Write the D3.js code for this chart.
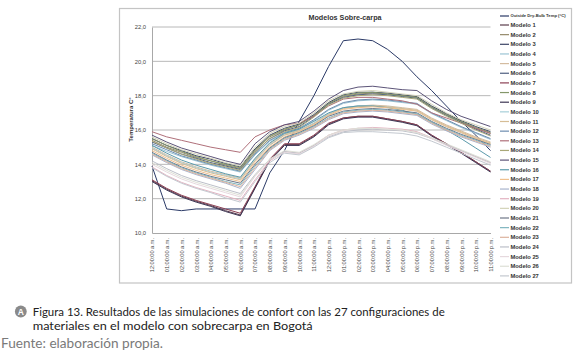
<!DOCTYPE html>
<html><head><meta charset="utf-8">
<script src="https://cdn.jsdelivr.net/npm/d3@7"></script>
<style>body{margin:0;background:#fff}svg{display:block}</style>
</head><body><svg id="c" width="580" height="356"></svg>
<script>
const hours = ["12:00:00 a.m.","01:00:00 a.m.","02:00:00 a.m.","03:00:00 a.m.","04:00:00 a.m.","05:00:00 a.m.","06:00:00 a.m.","07:00:00 a.m.","08:00:00 a.m.","09:00:00 a.m.","10:00:00 a.m.","11:00:00 a.m.","12:00:00 p.m.","01:00:00 p.m.","02:00:00 p.m.","03:00:00 p.m.","04:00:00 p.m.","05:00:00 p.m.","06:00:00 p.m.","07:00:00 p.m.","08:00:00 p.m.","09:00:00 p.m.","10:00:00 p.m.","11:00:00 p.m."];
const yTicks = [10,12,14,16,18,20,22];
const seriesNames = ["Outside Dry-Bulb Temp (°C)","Modelo 1","Modelo 2","Modelo 3","Modelo 4","Modelo 5","Modelo 6","Modelo 7","Modelo 8","Modelo 9","Modelo 10","Modelo 11","Modelo 12","Modelo 13","Modelo 14","Modelo 15","Modelo 16","Modelo 17","Modelo 18","Modelo 19","Modelo 20","Modelo 21","Modelo 22","Modelo 23","Modelo 24","Modelo 25","Modelo 26","Modelo 27"];
const seriesColors = ["#2b3a67","#5a3c4c","#948a6a","#3c4466","#9bc4d4","#d4bca0","#4e5f80","#8c4054","#84976a","#3d3553","#a6cfd9","#d6bd96","#6c8caf","#b0707a","#a9a878","#5c5478","#5b9aab","#efc08e","#a8b3cc","#e3b3c1","#d3d3b8","#6e7788","#7fb5bf","#dcb39e","#bcbfc8","#e6d9de","#dddfd6","#c3c8cf"];

const outside = [13.9,11.4,11.3,11.4,11.4,11.4,11.4,11.4,13.5,14.8,16.5,18.0,19.7,21.2,21.3,21.2,20.7,20.0,19.1,18.3,17.4,16.5,15.7,14.8];
const m1  = [13.05,12.55,12.15,11.85,11.6,11.3,11.05,12.65,14.25,15.15,15.15,15.65,16.35,16.7,16.8,16.8,16.65,16.5,16.3,15.7,15.2,14.7,14.15,13.6];
const m2  = [15.4,15.0,14.7,14.4,14.2,13.95,13.75,14.8,15.6,16.0,16.3,16.85,17.55,17.95,18.1,18.15,18.1,18.0,17.9,17.35,16.9,16.5,16.1,15.8];
const m3  = [15.5,15.1,14.8,14.5,14.3,14.05,13.85,14.9,15.7,16.1,16.35,16.9,17.6,18.05,18.2,18.2,18.15,18.05,17.95,17.4,16.95,16.55,16.2,15.9];
const m4  = [15.1,14.75,14.45,14.2,13.95,13.75,13.55,14.55,15.35,15.8,16.05,16.55,17.15,17.55,17.7,17.75,17.7,17.6,17.5,16.95,16.55,16.15,15.8,15.45];
const m5  = [15.0,14.55,14.15,13.85,13.6,13.4,13.2,14.3,15.2,15.75,16.0,16.4,16.95,17.3,17.4,17.45,17.4,17.3,17.2,16.7,16.3,15.95,15.6,15.3];
const m6  = [15.3,14.95,14.6,14.35,14.1,13.9,13.7,14.7,15.5,15.95,16.2,16.8,17.5,17.9,18.05,18.1,18.05,17.95,17.85,17.3,16.85,16.45,16.05,15.7];
const m7  = [13.1,12.6,12.2,11.9,11.65,11.4,11.15,12.7,14.3,15.2,15.2,15.7,16.4,16.7,16.8,16.8,16.65,16.5,16.3,15.7,15.2,14.7,14.15,13.6];
const m8  = [15.5,15.1,14.75,14.45,14.2,14.0,13.8,14.85,15.65,16.05,16.3,16.85,17.55,18.0,18.15,18.2,18.1,18.0,17.9,17.35,16.9,16.5,16.15,15.85];
const m9  = [13.0,12.5,12.1,11.8,11.55,11.25,11.0,12.6,14.2,15.1,15.1,15.6,16.3,16.65,16.75,16.75,16.6,16.45,16.25,15.65,15.15,14.65,14.1,13.55];
const m10 = [14.95,14.5,14.1,13.8,13.55,13.35,13.15,14.25,15.15,15.7,15.95,16.4,16.95,17.3,17.4,17.4,17.35,17.25,17.1,16.6,16.2,15.85,15.5,15.2];
const m11 = [14.9,14.45,14.05,13.75,13.5,13.3,13.1,14.2,15.1,15.7,15.95,16.35,16.9,17.25,17.35,17.4,17.35,17.25,17.15,16.65,16.25,15.9,15.55,15.25];
const m12 = [15.2,14.85,14.5,14.25,14.0,13.8,13.6,14.6,15.4,15.85,16.1,16.6,17.2,17.6,17.75,17.8,17.75,17.65,17.55,17.0,16.6,16.2,15.85,15.5];
const m13 = [15.9,15.6,15.4,15.2,15.0,14.85,14.7,15.6,16.0,16.3,16.4,16.8,17.4,17.8,17.9,17.9,17.8,17.7,17.5,17.0,16.7,16.4,16.1,15.8];
const m14 = [15.35,14.95,14.6,14.3,14.05,13.85,13.65,14.7,15.5,15.9,16.15,16.75,17.45,17.85,18.0,18.05,18.0,17.9,17.8,17.25,16.8,16.4,16.0,15.65];
const m15 = [15.7,15.3,14.95,14.7,14.45,14.2,14.0,15.2,15.9,16.3,16.5,17.1,17.8,18.3,18.5,18.55,18.45,18.35,18.3,17.7,17.2,16.8,16.5,16.2];
const m16 = [15.1,14.65,14.25,13.95,13.7,13.45,13.25,14.35,15.25,15.8,16.05,16.5,17.0,17.3,17.4,17.4,17.3,17.15,16.9,16.45,16.0,15.5,14.95,14.4];
const m17 = [14.8,14.35,13.95,13.65,13.4,13.2,13.0,14.1,15.0,15.6,15.9,16.3,16.85,17.2,17.3,17.35,17.3,17.2,17.1,16.6,16.2,15.85,15.5,15.2];
const m18 = [14.55,14.1,13.7,13.4,13.15,12.9,12.6,13.7,14.8,15.4,15.7,16.1,16.6,16.95,17.05,17.1,17.05,16.95,16.85,16.35,15.95,15.6,15.3,15.0];
const m19 = [13.85,13.35,12.95,12.65,12.4,12.15,11.9,13.1,14.2,14.75,14.65,15.1,15.7,16.0,16.1,16.15,16.1,16.05,15.9,15.55,15.15,14.8,14.45,14.1];
const m20 = [15.6,15.2,14.85,14.6,14.35,14.1,13.9,15.0,15.8,16.2,16.4,17.0,17.7,18.1,18.25,18.3,18.2,18.1,18.0,17.5,17.0,16.6,16.3,16.0];
const m21 = [14.7,14.25,13.85,13.55,13.3,13.1,12.9,14.0,14.95,15.55,15.85,16.25,16.8,17.1,17.2,17.25,17.2,17.1,17.0,16.5,16.1,15.75,15.45,15.15];
const m22 = [14.65,14.2,13.8,13.5,13.25,13.0,12.8,13.9,14.9,15.5,15.8,16.2,16.7,17.05,17.15,17.2,17.15,17.05,16.95,16.45,16.05,15.7,15.4,15.1];
const m23 = [14.6,14.15,13.75,13.45,13.2,12.95,12.7,13.8,14.85,15.45,15.75,16.15,16.65,17.0,17.1,17.15,17.1,17.0,16.9,16.4,16.0,15.65,15.35,15.05];
const m24 = [14.2,13.75,13.35,13.05,12.8,12.55,12.3,13.4,14.3,14.75,14.65,15.1,15.6,15.9,16.0,16.05,16.0,15.95,15.8,15.5,15.15,14.8,14.45,14.1];
const m25 = [14.0,13.55,13.15,12.85,12.6,12.35,12.1,13.3,14.25,14.7,14.6,15.05,15.65,15.95,16.1,16.1,16.05,16.0,15.85,15.5,15.1,14.75,14.4,14.05];
const m26 = [14.1,13.65,13.25,12.95,12.7,12.45,12.2,13.35,14.3,14.8,14.7,15.15,15.7,16.0,16.1,16.1,16.05,16.0,15.85,15.55,15.2,14.85,14.5,14.15];
const m27 = [13.8,13.3,12.9,12.6,12.35,12.05,11.8,13.0,14.1,14.65,14.55,15.0,15.55,15.85,15.9,15.9,15.85,15.8,15.65,15.35,15.0,14.65,14.3,13.95];

const allValues = [outside,m1,m2,m3,m4,m5,m6,m7,m8,m9,m10,m11,m12,m13,m14,m15,m16,m17,m18,m19,m20,m21,m22,m23,m24,m25,m26,m27];
const series = seriesNames.map((n,i)=>({name:n,color:seriesColors[i],values:allValues[i]}));

const svg = d3.select("#c");
svg.append("rect").attr("width",580).attr("height",356).attr("fill","#fff");
// chart area
svg.append("rect").attr("x",119.5).attr("y",8.5).attr("width",452).attr("height",274.5)
  .attr("fill","#fff").attr("stroke","#c4c4c4").attr("stroke-width",1.2);

const x = d3.scalePoint().domain(hours).range([152,490.5]).padding(0);
const y = d3.scaleLinear().domain([10,22]).range([233,27]);

// gridlines
svg.append("g").selectAll("line").data(yTicks.filter(d=>d>10)).join("line")
  .attr("x1",152).attr("x2",490.5).attr("y1",d=>y(d)).attr("y2",d=>y(d))
  .attr("stroke","#b8b8b8").attr("stroke-width",1);

const fmt = d => d3.format(".1f")(d).replace(".",",");
const gy = svg.append("g").attr("transform","translate(152,0)")
  .call(d3.axisLeft(y).tickValues(yTicks).tickFormat(fmt).tickSize(0).tickPadding(6));
gy.select(".domain").attr("stroke","#a8a8a8");
gy.selectAll("text").attr("font-family","Liberation Sans, Arial, sans-serif").attr("font-size",5.8).attr("fill","#444");

const gx = svg.append("g").attr("transform","translate(0,233)")
  .call(d3.axisBottom(x).tickSize(0));
gx.select(".domain").attr("stroke","#a8a8a8");
gx.selectAll("text").attr("font-family","Liberation Sans, Arial, sans-serif").attr("font-size",5.6).attr("fill","#444")
  .attr("transform","rotate(-90)").attr("text-anchor","end").attr("x",-5).attr("y",0).attr("dy","0.35em");

// lines
const line = d3.line().x((d,i)=>x(hours[i])).y(d=>y(d));
svg.append("g").selectAll("path").data(series).join("path")
  .attr("d",d=>line(d.values)).attr("fill","none").attr("stroke",d=>d.color).attr("stroke-width",1);

// title
svg.append("text").attr("x",345).attr("y",19.5).attr("text-anchor","middle")
  .attr("font-family","Liberation Sans, Arial, sans-serif").attr("font-size",7.2).attr("font-weight","bold").attr("fill","#333")
  .text("Modelos Sobre-carpa");
// y title
svg.append("text").attr("transform","translate(132.5,119.5) rotate(-90)").attr("text-anchor","middle")
  .attr("font-family","Liberation Sans, Arial, sans-serif").attr("font-size",6).attr("font-weight","bold").attr("fill","#333")
  .text("Temperatura C°");

// legend
const lg = svg.append("g");
series.forEach((s,i)=>{
  const yy = i===0 ? 16 : 25 + (i-1)*9.65;
  lg.append("line").attr("x1",500).attr("x2",509).attr("y1",yy).attr("y2",yy).attr("stroke",s.color).attr("stroke-width",1.2);
  lg.append("text").attr("x",510.5).attr("y",yy).attr("dy","0.35em")
    .attr("font-family","Liberation Sans, Arial, sans-serif").attr("font-weight","bold")
    .attr("font-size",i===0?4.2:5.8).attr("fill","#333").text(s.name);
});

// caption
svg.append("circle").attr("cx",20.8).attr("cy",311.5).attr("r",5.9).attr("fill","#8a8a8a");
svg.append("text").attr("x",20.8).attr("y",314.7).attr("text-anchor","middle").attr("font-family","Liberation Sans, Arial, sans-serif")
  .attr("font-weight","bold").attr("font-size",8.5).attr("fill","#fff").text("A");
svg.append("text").attr("x",32.7).attr("y",315.5).attr("font-family","Lato, sans-serif").attr("font-size",12.2).attr("fill","#222")
  .attr("textLength",412).attr("lengthAdjust","spacingAndGlyphs")
  .text("Figura 13. Resultados de las simulaciones de confort con las 27 configuraciones de");
svg.append("text").attr("x",32.7).attr("y",330.3).attr("font-family","Lato, sans-serif").attr("font-size",12.2).attr("fill","#222")
  .attr("textLength",280).attr("lengthAdjust","spacingAndGlyphs")
  .text("materiales en el modelo con sobrecarpa en Bogotá");
svg.append("text").attr("x",1).attr("y",347.5).attr("font-family","Lato, sans-serif").attr("font-size",12.5).attr("fill","#7a7a7a")
  .attr("textLength",162).attr("lengthAdjust","spacingAndGlyphs")
  .text("Fuente: elaboración propia.");
</script></body></html>
